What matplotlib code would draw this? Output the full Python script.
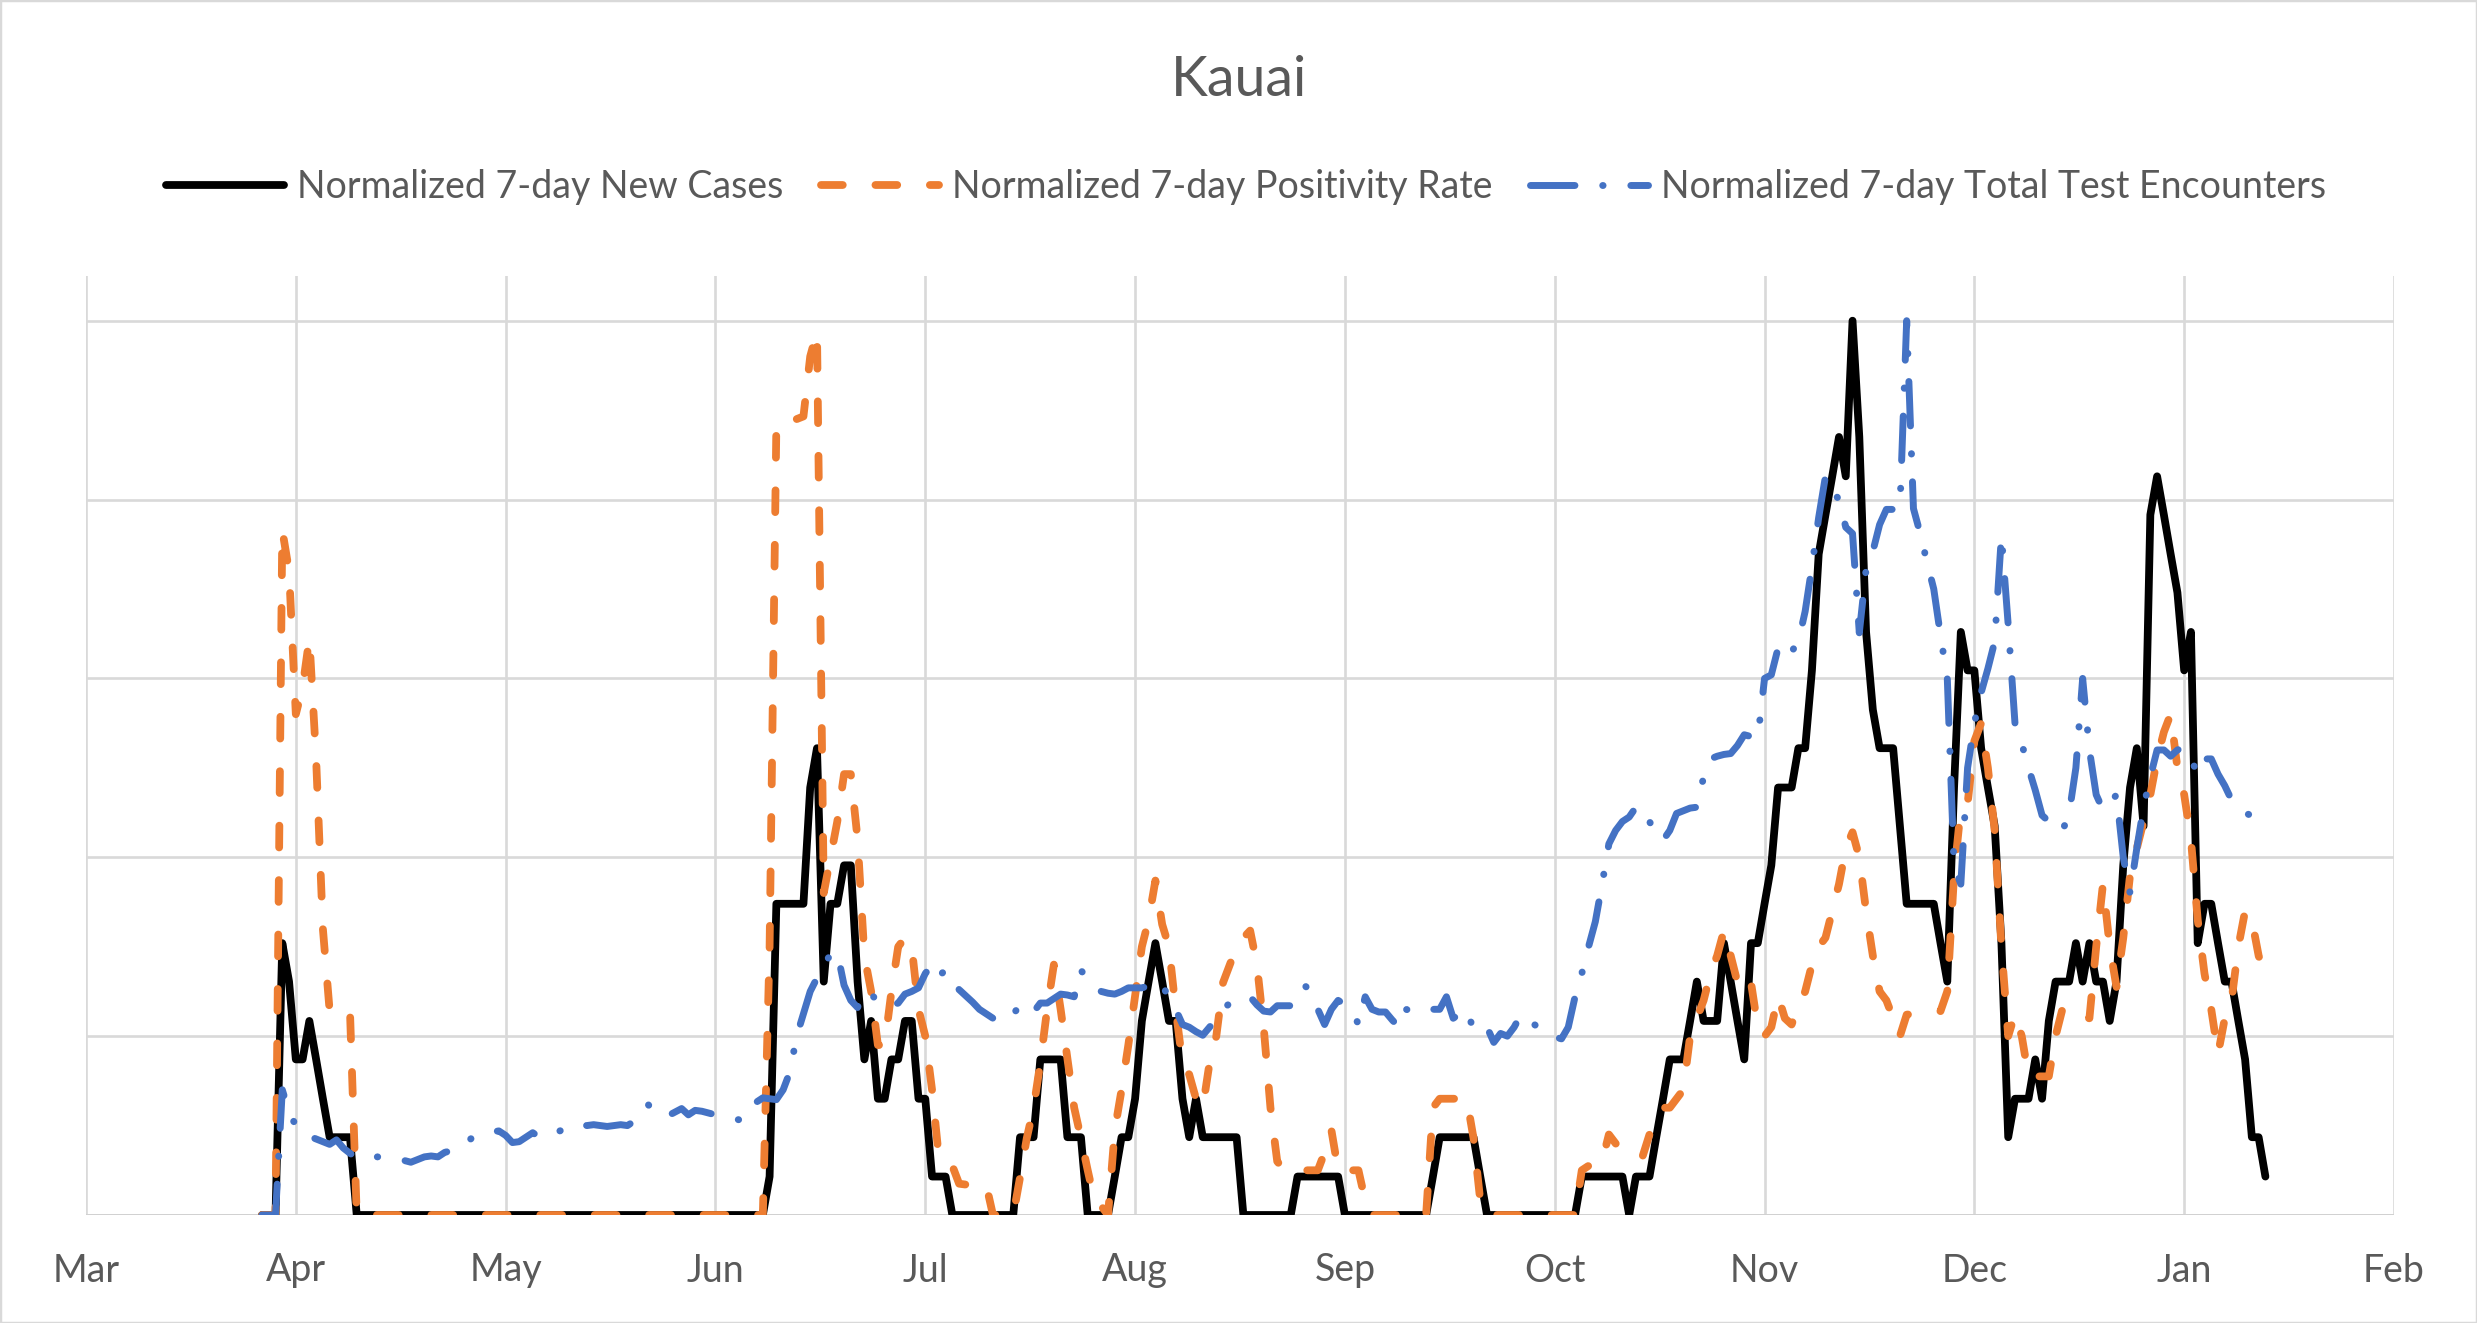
import numpy as np
import pandas as pd
import matplotlib
matplotlib.use("Agg")
import matplotlib.pyplot as plt
from matplotlib.patches import Rectangle

plt.rcParams['font.family'] = ['Lato', 'DejaVu Sans']

# ---------------- data ----------------
title = "Kauai"
series_names = ["Normalized 7-day New Cases",
                "Normalized 7-day Positivity Rate",
                "Normalized 7-day Total Test Encounters"]
month_labels = ["Mar", "Apr", "May", "Jun", "Jul", "Aug", "Sep", "Oct", "Nov", "Dec", "Jan", "Feb"]
axis_origin = "2020-03-01"
first_date = "2020-03-27"

new_cases = [
    0, 0, 0, 0.304, 0.261, 0.174, 0.174, 0.217, 0.174, 0.130, 0.087, 0.087, 0.087, 0.087, 0,
    0, 0, 0, 0, 0, 0, 0, 0, 0, 0,
    0, 0, 0, 0, 0, 0, 0, 0, 0, 0,
    0, 0, 0, 0, 0, 0, 0, 0, 0, 0,
    0, 0, 0, 0, 0, 0, 0, 0, 0, 0,
    0, 0, 0, 0, 0, 0, 0, 0, 0, 0,
    0, 0, 0, 0, 0, 0, 0, 0, 0, 0,
    0.043, 0.348, 0.348, 0.348, 0.348, 0.348, 0.478, 0.522, 0.261, 0.348,
    0.348, 0.391, 0.391, 0.261, 0.174, 0.217, 0.130, 0.130, 0.174, 0.174,
    0.217, 0.217, 0.130, 0.130, 0.043, 0.043, 0.043,
    0, 0, 0, 0, 0, 0, 0, 0, 0, 0,
    0.087, 0.087, 0.087, 0.174, 0.174, 0.174, 0.174, 0.087, 0.087, 0.087,
    0, 0, 0, 0,
    0.043, 0.087, 0.087, 0.130, 0.217, 0.261, 0.304, 0.261, 0.217, 0.217,
    0.130, 0.087, 0.130, 0.087, 0.087, 0.087, 0.087, 0.087, 0.087,
    0, 0, 0, 0, 0, 0, 0, 0,
    0.043, 0.043, 0.043, 0.043, 0.043, 0.043, 0.043,
    0, 0, 0, 0, 0, 0, 0, 0, 0, 0, 0, 0, 0,
    0.043, 0.087, 0.087, 0.087, 0.087, 0.087, 0.087, 0.043,
    0, 0, 0, 0, 0, 0, 0, 0, 0, 0, 0, 0, 0, 0,
    0.043, 0.043, 0.043, 0.043, 0.043, 0.043, 0.043,
    0, 0.043, 0.043, 0.043, 0.087, 0.130, 0.174, 0.174, 0.174, 0.217,
    0.261, 0.217, 0.217, 0.217, 0.304, 0.261, 0.217, 0.174, 0.304, 0.304,
    0.348, 0.391, 0.478, 0.478, 0.478, 0.522, 0.522, 0.609, 0.739, 0.783,
    0.826, 0.870, 0.826, 1.000, 0.870, 0.652, 0.565, 0.522, 0.522, 0.522,
    0.435, 0.348, 0.348, 0.348, 0.348, 0.348, 0.304, 0.261, 0.478, 0.652,
    0.609, 0.609, 0.522, 0.478, 0.435, 0.304, 0.087, 0.130, 0.130, 0.130,
    0.174, 0.130, 0.217, 0.261, 0.261, 0.261, 0.304, 0.261, 0.304, 0.261,
    0.261, 0.217, 0.261, 0.391, 0.478, 0.522, 0.435, 0.783, 0.826, 0.783,
    0.739, 0.696, 0.609, 0.652, 0.304, 0.348, 0.348, 0.304, 0.261, 0.261,
    0.217, 0.174, 0.087, 0.087, 0.043,
]

positivity = [
    0, 0, 0, 0.766, 0.72, 0.56, 0.59, 0.645, 0.51, 0.32, 0.228, 0.228, 0.228, 0.228, 0,
    0, 0, 0, 0, 0, 0, 0, 0, 0, 0,
    0, 0, 0, 0, 0, 0, 0, 0, 0, 0,
    0, 0, 0, 0, 0, 0, 0, 0, 0, 0,
    0, 0, 0, 0, 0, 0, 0, 0, 0, 0,
    0, 0, 0, 0, 0, 0, 0, 0, 0, 0,
    0, 0, 0, 0, 0, 0, 0, 0, 0, 0,
    0.30, 0.884, 0.885, 0.888, 0.89, 0.893, 0.96, 0.988, 0.36, 0.40,
    0.44, 0.493, 0.493, 0.42, 0.29, 0.25, 0.19, 0.19, 0.25, 0.30,
    0.31, 0.30, 0.23, 0.20, 0.14, 0.065, 0.06, 0.055, 0.035, 0.034,
    0.034, 0.034, 0.034, 0, 0, 0, 0, 0.042, 0.086, 0.12,
    0.17, 0.23, 0.28, 0.23, 0.175, 0.12, 0.086, 0.05, 0.016, 0.01,
    0, 0.095, 0.14, 0.19, 0.245, 0.30, 0.33, 0.374, 0.325, 0.30,
    0.23, 0.17, 0.157, 0.13, 0.12, 0.17, 0.20, 0.26, 0.28, 0.30,
    0.31, 0.318, 0.28, 0.21, 0.12, 0.06, 0.05, 0.05, 0.05, 0.05,
    0.05, 0.05, 0.07, 0.095, 0.05, 0.05, 0.05, 0.05, 0.016, 0,
    0, 0, 0, 0, 0, 0, 0, 0, 0.12, 0.13,
    0.13, 0.13, 0.13, 0.13, 0.086, 0.016, 0, 0, 0, 0,
    0, 0, 0, 0, 0, 0, 0, 0, 0, 0,
    0.05, 0.055, 0.06, 0.06, 0.09, 0.08, 0.07, 0.07, 0.07, 0.066,
    0.09, 0.11, 0.12, 0.12, 0.13, 0.14, 0.20, 0.22, 0.24, 0.27,
    0.29, 0.318, 0.29, 0.26, 0.25, 0.26, 0.21, 0.20, 0.21, 0.245,
    0.22, 0.213, 0.234, 0.25, 0.28, 0.30, 0.31, 0.34, 0.37, 0.41,
    0.428, 0.40, 0.34, 0.29, 0.25, 0.24, 0.22, 0.20, 0.224, 0.225,
    0.225, 0.226, 0.227, 0.228, 0.25, 0.38, 0.455, 0.46, 0.53, 0.55,
    0.50, 0.43, 0.30, 0.20, 0.225, 0.20, 0.155, 0.155, 0.155, 0.155,
    0.20, 0.23, 0.23, 0.23, 0.22, 0.22, 0.30, 0.37, 0.30, 0.255,
    0.31, 0.38, 0.41, 0.44, 0.47, 0.51, 0.54, 0.56, 0.50, 0.47,
    0.42, 0.33, 0.27, 0.23, 0.18, 0.22, 0.24, 0.30, 0.34, 0.33,
    0.29, 0.265,
]

test_encounters = [
    0, 0, 0, 0.14, 0.115, 0.10, 0.092, 0.088, 0.085, 0.082, 0.079, 0.084, 0.075, 0.069, 0.064,
    0.066, 0.066, 0.065, 0.065, 0.064, 0.063, 0.061, 0.059, 0.062, 0.065,
    0.066, 0.065, 0.07, 0.072, 0.074, 0.08, 0.086, 0.09, 0.092, 0.093,
    0.094, 0.089, 0.081, 0.082, 0.087, 0.092, 0.087, 0.088, 0.091, 0.094,
    0.097, 0.10, 0.102, 0.10, 0.101, 0.10, 0.099, 0.10, 0.101, 0.10,
    0.105, 0.115, 0.124, 0.115, 0.112, 0.111, 0.115, 0.119, 0.112, 0.117,
    0.116, 0.114, 0.112, 0.11, 0.109, 0.107, 0.106, 0.116, 0.126, 0.131,
    0.13, 0.129, 0.14, 0.16, 0.20, 0.225, 0.25, 0.265, 0.28, 0.291,
    0.294, 0.257, 0.24, 0.232, 0.25, 0.248, 0.237, 0.234, 0.234, 0.237,
    0.247, 0.25, 0.254, 0.27, 0.28, 0.267, 0.274, 0.264, 0.252, 0.245,
    0.238, 0.23, 0.225, 0.22, 0.218, 0.217, 0.225, 0.234, 0.227, 0.227,
    0.237, 0.237, 0.242, 0.247, 0.246, 0.244, 0.274, 0.262, 0.254, 0.25,
    0.248, 0.247, 0.25, 0.254, 0.254, 0.254, 0.256, 0.258, 0.26, 0.24,
    0.23, 0.213, 0.21, 0.205, 0.201, 0.21, 0.22, 0.23, 0.237, 0.24,
    0.242, 0.244, 0.235, 0.228, 0.227, 0.234, 0.234, 0.234, 0.245, 0.257,
    0.25, 0.23, 0.213, 0.23, 0.24, 0.235, 0.23, 0.213, 0.244, 0.23,
    0.227, 0.227, 0.218, 0.21, 0.23, 0.228, 0.226, 0.228, 0.23, 0.23,
    0.244, 0.22, 0.225, 0.23, 0.207, 0.21, 0.21, 0.193, 0.203, 0.20,
    0.21, 0.224, 0.22, 0.213, 0.207, 0.203, 0.199, 0.197, 0.21, 0.244,
    0.27, 0.30, 0.328, 0.37, 0.415, 0.43, 0.44, 0.445, 0.456, 0.455,
    0.44, 0.426, 0.419, 0.43, 0.449, 0.452, 0.455, 0.456, 0.49, 0.51,
    0.513, 0.515, 0.516, 0.525, 0.537, 0.535, 0.533, 0.60, 0.604, 0.634,
    0.624, 0.63, 0.641, 0.675, 0.725, 0.78, 0.826, 0.81, 0.80, 0.769,
    0.762, 0.651, 0.722, 0.742, 0.772, 0.789, 0.789, 0.79, 1.0, 0.79,
    0.762, 0.73, 0.70, 0.648, 0.60, 0.39, 0.37, 0.50, 0.55, 0.584,
    0.611, 0.641, 0.76, 0.66, 0.55, 0.527, 0.50, 0.475, 0.447, 0.44,
    0.436, 0.429, 0.449, 0.50, 0.60, 0.52, 0.47, 0.453, 0.46, 0.47,
    0.40, 0.36, 0.41, 0.456, 0.49, 0.52, 0.52, 0.513, 0.52, 0.523,
    0.51, 0.493, 0.51, 0.51, 0.493, 0.48, 0.464, 0.458, 0.45, 0.446,
    0.44, 0.432,
]

# ---------------- figure ----------------
W, H = 2477, 1323
fig = plt.figure(figsize=(W / 100, H / 100), dpi=100)
ax = fig.add_axes([86 / W, 1 - 1215 / H, (2394 - 86) / W, (1215 - 276) / H])

dates = pd.date_range(first_date, periods=len(new_cases), freq="D")
x = (dates - pd.Timestamp(axis_origin)).days.values

text_col = "#595959"
grid_col = "#D9D9D9"

l1, = ax.plot(x, new_cases, color="#000000", lw=5.6,
              solid_joinstyle="round", solid_capstyle="round", zorder=3)
l2, = ax.plot(x, positivity, color="#ED7D31", lw=5.6, linestyle=(0, (2.8, 4.2)),
              dash_capstyle="round", dash_joinstyle="round", zorder=4)
l3, = ax.plot(x, test_encounters, color="#4472C4", lw=5.0,
              linestyle=(0, (6.4, 4.0, 0.05, 4.0)),
              dash_capstyle="round", dash_joinstyle="round", zorder=5)

tick_pos = np.arange(len(month_labels)) * 31
ax.set_xticks(tick_pos)
ax.set_xticklabels(month_labels)
ax.set_xlim(0, tick_pos[-1])
ax.set_ylim(0, 1.05)
ax.set_yticks([0, 0.2, 0.4, 0.6, 0.8, 1.0])
ax.set_yticklabels([])
ax.tick_params(axis="both", length=0)
ax.tick_params(axis="x", labelsize=27, labelcolor=text_col, pad=27)
ax.grid(True, color=grid_col, lw=1.9, zorder=0)
ax.set_axisbelow(True)
for s in ax.spines.values():
    s.set_visible(False)
ax.axhline(0, color="#D0D0D0", lw=2.0, zorder=1)

fig.text(0.5, 1 - 80 / H, title, ha="center", va="center",
         fontsize=40, color=text_col)

fig.legend([l1, l2, l3], series_names, loc="center",
           bbox_to_anchor=(1246 / W, 1 - 187 / H), ncol=3, frameon=False,
           fontsize=27, handlelength=3.15, handletextpad=0.35,
           columnspacing=1.0, labelcolor=text_col)

fig.add_artist(Rectangle((0, 0), 1, 1, transform=fig.transFigure, fill=False,
                         edgecolor=grid_col, lw=2.5))

fig.savefig("out.png", dpi=100)
